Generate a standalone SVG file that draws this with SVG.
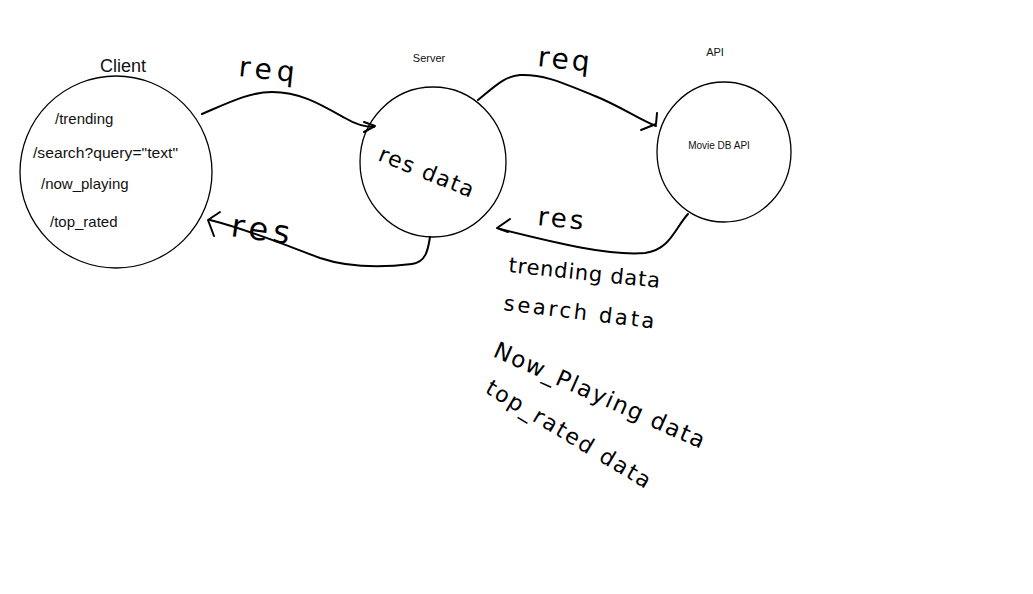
<svg xmlns="http://www.w3.org/2000/svg" width="1033" height="594" viewBox="0 0 1033 594">
<style>
.node{fill:none;stroke:#000;stroke-width:1.3}
.lbl{font-family:"Liberation Sans",Arial,sans-serif;fill:#111}
.hand{font-family:"DejaVu Sans","Liberation Sans",sans-serif;fill:#000}
.conn{fill:none;stroke:#000;stroke-width:2;stroke-linecap:round;stroke-linejoin:round}
</style>
<rect width="1033" height="594" fill="#fff"/>
<g id="client">
<ellipse class="node" cx="116" cy="172" rx="96" ry="96"/>
<text class="lbl" x="123" y="72" font-size="18" text-anchor="middle">Client</text>
<text class="lbl" x="55" y="124" font-size="15">/trending</text>
<text class="lbl" x="33" y="158" font-size="14" textLength="145" lengthAdjust="spacingAndGlyphs">/search?query="text"</text>
<text class="lbl" x="41" y="189" font-size="15">/now_playing</text>
<text class="lbl" x="50" y="227" font-size="15">/top_rated</text>
</g>
<g id="server">
<ellipse class="node" cx="433" cy="162" rx="73" ry="75"/>
<text class="lbl" x="429" y="62" font-size="11" text-anchor="middle">Server</text>
<text class="hand" x="377" y="160" font-size="22" letter-spacing="1.5" transform="rotate(22 377 160)">res data</text>
</g>
<g id="api">
<ellipse class="node" cx="724" cy="152" rx="67" ry="70"/>
<text class="lbl" x="715" y="56" font-size="11" text-anchor="middle">API</text>
<text class="lbl" x="719" y="149" font-size="10" text-anchor="middle">Movie DB API</text>
</g>
<g id="connectors">
<path class="conn" d="M202,114 C230,102 250,92 272,92 C300,92 320,104 345,118 C355,124 365,127 374,127"/>
<path class="conn" d="M364,122 L375,126 L364,132"/>
<path class="conn" d="M430,237 C428,250 426,262 412,264 C380,268 350,268 320,258 C290,247 250,230 210,220"/>
<path class="conn" d="M220,212 L208,220 L214,236"/>
<path class="conn" d="M478,100 C495,86 505,76 520,75 C545,74 565,84 595,96 C620,106 640,120 656,126"/>
<path class="conn" d="M641,130 L656,124 L657,113"/>
<path class="conn" d="M688,214 C675,228 670,250 645,253 C610,256 560,244 500,229"/>
<path class="conn" d="M510,219 L497,228 L508,232"/>
</g>
<g id="labels">
<text class="hand" x="238" y="76" font-size="28" letter-spacing="5" transform="rotate(6 238 76)">req</text>
<text class="hand" x="537" y="66" font-size="28" letter-spacing="3" transform="rotate(6 537 66)">req</text>
<text class="hand" x="230" y="236" font-size="32" letter-spacing="5" transform="rotate(8 230 236)">res</text>
<text class="hand" x="537" y="225" font-size="26" letter-spacing="3" transform="rotate(6 537 225)">res</text>
<text class="hand" x="508" y="272" font-size="21" letter-spacing="0.8" transform="rotate(6 508 272)">trending data</text>
<text class="hand" x="503" y="310" font-size="21" letter-spacing="2.8" transform="rotate(7 503 310)">search data</text>
<text class="hand" x="492" y="356" font-size="23" letter-spacing="1.6" transform="rotate(24 492 356)">Now_Playing data</text>
<text class="hand" x="484" y="392" font-size="22" letter-spacing="2" transform="rotate(31 484 392)">top_rated data</text>
</g>
</svg>
